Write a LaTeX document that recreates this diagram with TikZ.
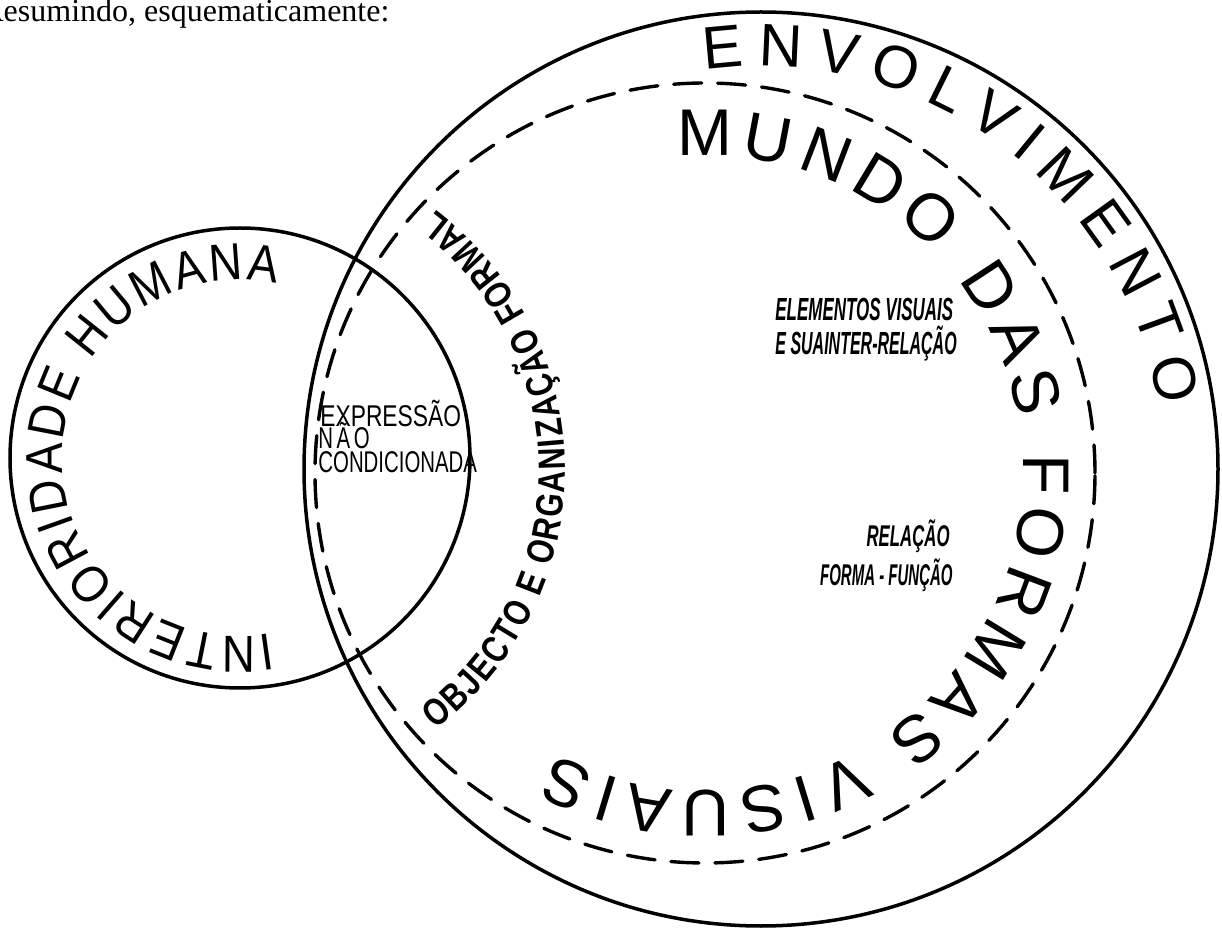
\documentclass[tikz,border=0pt]{standalone}
\usepackage{fontspec}
\setmainfont{Liberation Serif}
\newfontfamily\stencil{Liberation Sans}
\newfontfamily\stencilnarrow[FakeStretch=0.88]{Liberation Sans}
\newfontfamily\exprA[FakeStretch=0.76]{Liberation Sans}
\newfontfamily\exprC[FakeStretch=0.68]{Liberation Sans}
\newfontfamily\exprN[FakeStretch=0.68,LetterSpace=12]{Liberation Sans}
\newfontfamily\condsans[FakeStretch=0.8]{Liberation Sans}
\newfontfamily\slimA[FakeStretch=0.53]{Liberation Sans}
\newfontfamily\slimB[FakeStretch=0.50]{Liberation Sans}
\newfontfamily\slimC[FakeStretch=0.56]{Liberation Sans}
\usetikzlibrary{decorations.text,calc}
\tikzset{
  ring/.style={line width=1.75pt},
  dashring/.style={line width=1.7pt, line cap=round, dash pattern=on 14pt off 8pt},
  fitdeco/.style={decorate, decoration={text along path, text align=fit to path, text={#1}}},
  plainlabel/.style={inner sep=0pt, align=left},
}
\begin{document}
\begin{tikzpicture}[x=0.5pt,y=0.5pt]
\useasboundingbox[fill=white] (0,0) rectangle (1222,-930);
% centres
\coordinate (S) at (240,-458);
\coordinate (B) at (761,-469);
\coordinate (D) at (705,-473);
\coordinate (T) at (240,-470);
% circles
\draw[ring] (S) circle[radius=230];
\draw[ring] (B) circle[radius=457];
\draw[dashring] (D) circle[radius=390];
% header
\node[anchor=base west, inner sep=0pt, font=\fontsize{16}{16}\selectfont] (head) at (-18,-22) {Resumindo, esquematicamente:};
% curved texts
\path[fitdeco={|\stencilnarrow\fontsize{26}{26}\selectfont|INTERIORIDADE HUMANA}]
  ($(S)+(-80:178)$) arc[start angle=-80, end angle=-282, radius=178];
\path[fitdeco={|\stencil\fontsize{30}{30}\selectfont|ENVOLVIMENTO}]
  ($(B)+(98:403)$) arc[start angle=98, end angle=9, radius=403];
\path[fitdeco={|\stencil\fontsize{33}{33}\selectfont|MUNDO DAS FORMAS VISUAIS}]
  ($(D)+(95:318)$) arc[start angle=95, end angle=-118, radius=318];
\path[fitdeco={|\condsans\bfseries\fontsize{19}{19}\selectfont|OBJECTO E ORGANIZAÇÃO FORMAL}]
  ($(T)+(-53:325)$) arc[start angle=-53, end angle=53, radius=325];
% straight texts
\node[plainlabel, anchor=base west, font=\exprA\fontsize{15}{15}\selectfont] (expr1) at (320,-427) {EXPRESSÃO};
\node[plainlabel, anchor=base west, font=\exprN\fontsize{15}{15}\selectfont] (expr2) at (318,-449) {NÃO};
\node[plainlabel, anchor=base west, font=\exprC\fontsize{15}{15}\selectfont] (expr3) at (318,-473) {CONDICIONADA};
\node[plainlabel, anchor=base west, font=\slimA\bfseries\itshape\fontsize{16}{16}\selectfont] (elem1) at (775,-321)
  {ELEMENTOS VISUAIS};
\node[plainlabel, anchor=base west, font=\slimB\bfseries\itshape\fontsize{16}{16}\selectfont] (elem2) at (775,-355)
  {E SUAINTER-RELAÇÃO};
\node[plainlabel, anchor=base east, font=\slimC\bfseries\itshape\fontsize{15}{15}\selectfont] (rel1) at (950,-547)
  {RELAÇÃO};
\node[plainlabel, anchor=base east, font=\slimB\bfseries\itshape\fontsize{15}{15}\selectfont] (rel2) at (953,-586)
  {FORMA - FUNÇÃO};
\end{tikzpicture}
\end{document}
